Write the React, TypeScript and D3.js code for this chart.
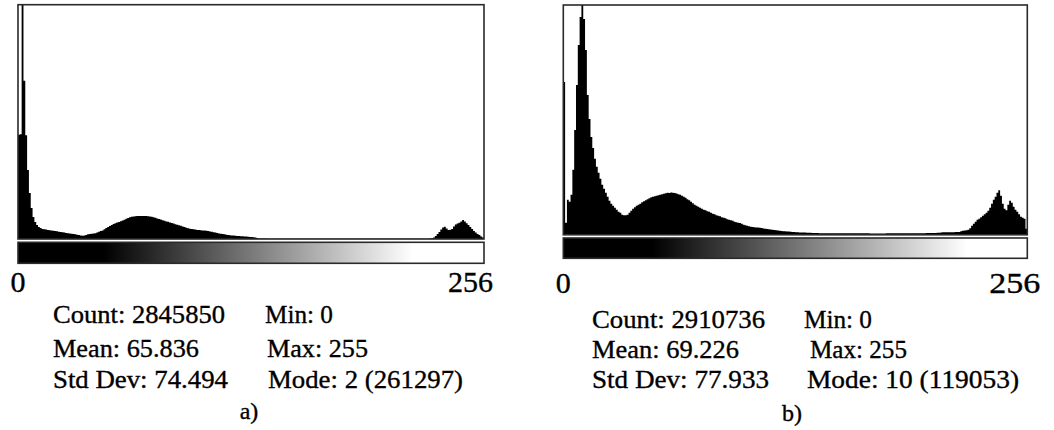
import { useEffect, useRef } from 'react';
import * as d3 from 'd3';

// grey-level histograms, one count per level 0..255
const countsA = [
  114400, 115000, 261297, 173800, 113900, 75900, 50600, 34100, 24200, 18700,
  15400, 13200, 12100, 11000, 10800, 10450, 9900, 9750, 9350, 9130,
  8800, 8470, 8030, 7700, 7370, 7040, 6600, 6380, 6050, 5720,
  5500, 5170, 4730, 4400, 3850, 3630, 3850, 4400, 5280, 5500,
  5720, 6050, 6270, 7150, 8030, 8800, 9460, 10780, 12100, 13200,
  14300, 15400, 16500, 17270, 18040, 18700, 19470, 20350, 21230, 22330,
  23100, 23870, 24530, 24750, 25080, 25300, 25400, 25200, 25350, 25300,
  25250, 25080, 24750, 24530, 23980, 23320, 22550, 22000, 21340, 20680,
  20020, 19360, 19030, 18260, 17600, 16940, 16280, 15620, 15180, 14520,
  13860, 13200, 12430, 11770, 11330, 11000, 10670, 10340, 10010, 9900,
  9680, 9460, 9240, 9020, 8800, 8360, 7920, 7480, 7040, 6600,
  6160, 5830, 5500, 5170, 4730, 4400, 4180, 3960, 3740, 3520,
  3300, 3190, 3080, 2970, 2750, 2640, 2530, 2310, 2090, 1870,
  1540, 1100, 660, 520, 480, 450, 430, 410, 400, 390,
  380, 370, 360, 350, 345, 340, 330, 325, 320, 315,
  310, 305, 300, 300, 295, 290, 290, 285, 280, 280,
  275, 270, 270, 265, 260, 260, 255, 250, 250, 245,
  240, 240, 235, 230, 230, 225, 220, 220, 215, 210,
  210, 205, 200, 200, 200, 195, 195, 190, 190, 190,
  185, 185, 185, 190, 190, 195, 195, 200, 200, 205,
  210, 210, 215, 220, 225, 230, 235, 240, 245, 250,
  255, 260, 265, 270, 275, 280, 285, 290, 295, 300,
  305, 310, 315, 320, 325, 330, 550, 880, 1650, 3300,
  5500, 7700, 10450, 12650, 13530, 11550, 9900, 10120, 11000, 13750,
  15950, 17050, 17930, 19250, 20900, 19250, 17270, 15400, 13200, 11000,
  8800, 7150, 5500, 4400, 2750, 1650,
];

const countsB = [
  79190, 6210, 18120, 17080, 20700, 33640, 54350, 77640, 98340, 112840,
  119053, 111800, 95760, 72460, 60040, 50720, 45030, 39340, 35200, 32090,
  28990, 25880, 23810, 21740, 19670, 17600, 16050, 15010, 13980, 12940,
  11900, 11390, 10350, 10090, 10100, 10350, 11390, 12420, 13460, 14230,
  15010, 15530, 16050, 16820, 17340, 17860, 18370, 18890, 19410, 19670,
  19930, 20190, 20450, 20700, 20960, 21220, 21480, 21740, 21600, 21890,
  21740, 21640, 21380, 20960, 20700, 20190, 19670, 19150, 18370, 17860,
  17080, 16300, 15530, 15010, 14490, 13980, 13460, 12940, 12680, 12160,
  11900, 11390, 10870, 10610, 10090, 9830, 9580, 9060, 8800, 8540,
  8020, 7760, 7510, 7250, 6730, 6470, 6210, 6150, 5690, 5180,
  4920, 4660, 4400, 4140, 4040, 3930, 3830, 3730, 3620, 3470,
  3310, 3110, 3000, 2850, 2690, 2590, 2480, 2330, 2230, 2070,
  1970, 1860, 1810, 1710, 1660, 1550, 1450, 1400, 1350, 1290,
  1240, 1200, 1170, 1130, 1100, 1060, 1020, 980, 940, 910,
  880, 860, 840, 830, 820, 810, 800, 800, 790, 790,
  780, 780, 780, 770, 770, 770, 760, 760, 760, 760,
  750, 750, 750, 750, 740, 740, 740, 740, 740, 730,
  730, 730, 730, 730, 730, 730, 730, 730, 740, 740,
  740, 740, 750, 750, 750, 760, 760, 760, 770, 770,
  780, 780, 790, 790, 800, 810, 820, 830, 840, 850,
  870, 890, 910, 930, 960, 990, 1030, 1080, 1250, 1300,
  1280, 1320, 1290, 1340, 1310, 1360, 1400, 1450, 1500, 1810,
  2070, 2170, 2330, 2590, 3360, 4660, 5690, 6730, 7760, 8280,
  9060, 9830, 10610, 11390, 12420, 13980, 16050, 18120, 19670, 21740,
  23030, 20190, 16050, 13460, 12680, 15530, 17600, 16560, 14490, 12940,
  11900, 10610, 9320, 8800, 8280, 3110,
];

// vertical range of each plot (a's mode is clipped at the top)
const yMaxA = 257400;
const yMaxB = 119053;

// grey levels where the LUT bar goes from black to white
const lutA = [47, 217];
const lutB = [49, 223];

const statsLeftA = ['Count: 2845850', 'Mean: 65.836', 'Std Dev: 74.494'];
const statsRightA = ['Min: 0', 'Max: 255', 'Mode: 2 (261297)'];
const statsLeftB = ['Count: 2910736', 'Mean: 69.226', 'Std Dev: 77.933'];
const statsRightB = ['Min: 0', 'Max: 255', 'Mode: 10 (119053)'];

const axisLabels = ['0', '256'];
const captions = ['a)', 'b)'];

const panels = [
  {
    key: 'a', counts: countsA, yMax: yMaxA, lut: lutA,
    left: statsLeftA, right: statsRightA, caption: captions[0],
    box: {
      x0: 18, x1: 484, top: 4.7, base: 239, barTop: 242.3, barBottom: 263.3,
      labelY: 292, endShift: 9, endLen: 45,
      leftX: 53, rightX: [265, 267, 268], rows: [323, 357, 388],
      leftLen: [172, 146, 175], rightLen: [68, 101, 195],
      capX: 249, capY: 419,
    },
  },
  {
    key: 'b', counts: countsB, yMax: yMaxB, lut: lutB,
    left: statsLeftB, right: statsRightB, caption: captions[1],
    box: {
      x0: 563.3, x1: 1027.3, top: 5, base: 234.8, barTop: 238, barBottom: 258.3,
      labelY: 292.5, endShift: 13, endLen: 51,
      leftX: 592, rightX: [804, 810, 807], rows: [328, 358, 388],
      leftLen: [173, 147, 177], rightLen: [68, 97, 212],
      capX: 792, capY: 421,
    },
  },
];

const FONT = "'Liberation Serif', 'Times New Roman', Times, serif";

export default function App() {
  const svgRef = useRef<SVGSVGElement | null>(null);

  useEffect(() => {
    if (!svgRef.current) return;
    const svg = d3.select(svgRef.current);
    svg.selectAll('*').remove();
    const defs = svg.append('defs');

    panels.forEach(p => {
      const b = p.box;
      const x = d3.scaleLinear().domain([0, 256]).range([b.x0, b.x1]);
      const y = d3.scaleLinear().domain([0, p.yMax]).range([b.base, b.top]).clamp(true);
      const g = svg.append('g');

      // histogram
      const area = d3.area<number>()
        .x((_, i) => x(i))
        .y0(b.base)
        .y1(d => y(d))
        .curve(d3.curveStepAfter);

      g.append('path')
        .datum([...p.counts, p.counts[p.counts.length - 1]])
        .attr('d', area)
        .attr('fill', '#000');

      g.append('rect')
        .attr('x', b.x0)
        .attr('y', b.top)
        .attr('width', b.x1 - b.x0)
        .attr('height', b.base - b.top)
        .attr('fill', 'none')
        .attr('stroke', '#2a2a2a')
        .attr('stroke-width', 1.6);

      // LUT bar
      const grad = defs.append('linearGradient')
        .attr('id', `lut-${p.key}`)
        .attr('gradientUnits', 'userSpaceOnUse')
        .attr('x1', x(p.lut[0])).attr('x2', x(p.lut[1]))
        .attr('y1', 0).attr('y2', 0);
      grad.append('stop').attr('offset', 0).attr('stop-color', '#000');
      grad.append('stop').attr('offset', 1).attr('stop-color', '#fff');

      g.append('rect')
        .attr('x', b.x0)
        .attr('y', b.barTop)
        .attr('width', b.x1 - b.x0)
        .attr('height', b.barBottom - b.barTop)
        .attr('fill', `url(#lut-${p.key})`)
        .attr('stroke', '#2a2a2a')
        .attr('stroke-width', 1.6);

      // range labels
      g.append('text')
        .attr('x', x(0))
        .attr('y', b.labelY)
        .attr('text-anchor', 'middle')
        .style('font-size', '30px')
        .text(axisLabels[0]);

      g.append('text')
        .attr('x', x(256) + b.endShift)
        .attr('y', b.labelY)
        .attr('text-anchor', 'end')
        .style('font-size', '30px')
        .attr('textLength', b.endLen)
        .attr('lengthAdjust', 'spacingAndGlyphs')
        .text(axisLabels[1]);

      // statistics
      p.left.forEach((s, i) => {
        g.append('text')
          .attr('x', b.leftX)
          .attr('y', b.rows[i])
          .style('font-size', '26px')
          .attr('textLength', b.leftLen[i])
          .attr('lengthAdjust', 'spacingAndGlyphs')
          .text(s);
      });
      p.right.forEach((s, i) => {
        g.append('text')
          .attr('x', b.rightX[i])
          .attr('y', b.rows[i])
          .style('font-size', '26px')
          .attr('textLength', b.rightLen[i])
          .attr('lengthAdjust', 'spacingAndGlyphs')
          .text(s);
      });

      g.append('text')
        .attr('x', b.capX)
        .attr('y', b.capY)
        .attr('text-anchor', 'middle')
        .style('font-size', '24px')
        .text(p.caption);
    });

    // the scanned figure's type is a little heavier than a clean render
    svg.selectAll('text')
      .style('font-family', FONT)
      .attr('fill', '#000')
      .attr('stroke', '#000')
      .attr('stroke-width', 0.35);
  }, []);

  return (
    <svg
      ref={svgRef}
      width={1054}
      height={430}
      style={{ position: 'absolute', left: 0, top: 0, background: '#fff' }}
    />
  );
}
